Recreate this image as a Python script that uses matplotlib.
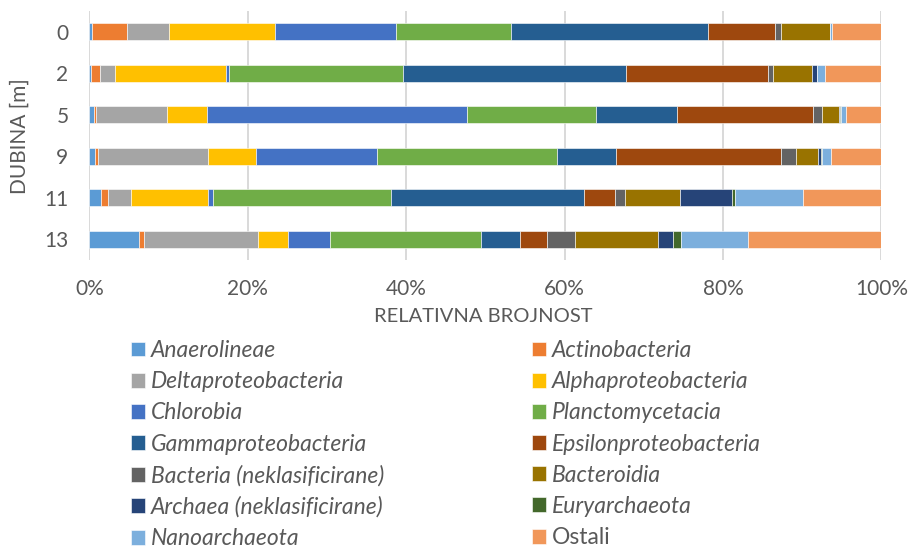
import matplotlib.pyplot as plt
import numpy as np

plt.rcParams['font.family'] = ['Lato', 'DejaVu Sans']

depths = ['0', '2', '5', '9', '11', '13']

# relative abundance (%) per depth, top to bottom
anaerolineae = [0.4, 0.25, 0.6, 0.76, 1.5, 6.3]
actinobacteria = [4.4, 1.1, 0.25, 0.34, 0.85, 0.65]
deltaproteobacteria = [5.3, 1.9, 9.0, 13.9, 2.95, 14.4]
alphaproteobacteria = [13.4, 14.0, 5.0, 6.0, 9.7, 3.75]
chlorobia = [15.2, 0.4, 32.8, 15.35, 0.6, 5.25]
planctomycetacia = [14.5, 22.0, 16.3, 22.7, 22.5, 19.05]
gammaproteobacteria = [24.9, 28.1, 10.2, 7.4, 24.3, 5.0]
epsilonproteobacteria = [8.5, 17.9, 17.2, 20.9, 4.0, 3.35]
bacteria_nekl = [0.7, 0.7, 1.15, 1.9, 1.3, 3.55]
bacteroidia = [6.2, 4.9, 2.15, 2.8, 6.9, 10.5]
archaea_nekl = [0.0, 0.6, 0.1, 0.3, 6.6, 1.95]
euryarchaeota = [0.0, 0.0, 0.1, 0.2, 0.3, 1.0]
nanoarchaeota = [0.3, 1.0, 0.7, 1.05, 8.65, 8.45]
ostali = [6.2, 7.2, 4.45, 6.35, 9.85, 16.8]

series = [
    ('Anaerolineae', anaerolineae, '#5B9BD5'),
    ('Actinobacteria', actinobacteria, '#ED7D31'),
    ('Deltaproteobacteria', deltaproteobacteria, '#A5A5A5'),
    ('Alphaproteobacteria', alphaproteobacteria, '#FFC000'),
    ('Chlorobia', chlorobia, '#4472C4'),
    ('Planctomycetacia', planctomycetacia, '#70AD47'),
    ('Gammaproteobacteria', gammaproteobacteria, '#255E91'),
    ('Epsilonproteobacteria', epsilonproteobacteria, '#9E480E'),
    ('Bacteria (neklasificirane)', bacteria_nekl, '#636363'),
    ('Bacteroidia', bacteroidia, '#997300'),
    ('Archaea (neklasificirane)', archaea_nekl, '#264478'),
    ('Euryarchaeota', euryarchaeota, '#43682B'),
    ('Nanoarchaeota', nanoarchaeota, '#7CAFDD'),
    ('Ostali', ostali, '#F1975A'),
]

grey = '#595959'

fig = plt.figure(figsize=(9.08, 5.51), dpi=100)
ax = fig.add_axes([89.3 / 908, 1 - 260 / 551, 792 / 908, 249 / 551])

y = np.arange(len(depths))
left = np.zeros(len(depths))
handles = []
for name, vals, col in series:
    vals = np.array(vals)
    h = ax.barh(y, vals, left=left, height=0.4, color=col,
                edgecolor='white', linewidth=0.4, zorder=3)
    handles.append(h)
    left += vals

ax.set_xlim(0, 100)
ax.set_ylim(len(depths) - 0.5, -0.5)
ax.set_xticks(np.arange(0, 101, 20))
ax.set_xticklabels(['{:d}%'.format(v) for v in range(0, 101, 20)])
ax.set_yticks(y)
ax.set_yticklabels(depths)
ax.tick_params(axis='both', length=0, labelsize=15, labelcolor=grey)
ax.tick_params(axis='y', pad=15)
ax.tick_params(axis='x', pad=14)
ax.grid(axis='x', color='#D9D9D9', linewidth=1.4, zorder=0)
for s in ax.spines.values():
    s.set_visible(False)

fig.text(483 / 908, 1 - 317 / 551, 'RELATIVNA BROJNOST', ha='center', va='center',
         fontsize=14.5, color=grey)
fig.text(20 / 908, 1 - 136 / 551, 'DUBINA [m]', ha='center', va='center',
         rotation=90, fontsize=15, color=grey)

# two legend columns, row-wise order as in the original
for col, x0 in [(0, 131), (1, 532)]:
    hs = handles[col::2]
    labels = [s[0] for s in series[col::2]]
    leg = fig.legend(hs, labels, loc='upper left',
                     bbox_to_anchor=(x0 / 908, 1 - 340 / 551),
                     frameon=False, fontsize=16.5, borderpad=0, borderaxespad=0,
                     handlelength=0.62, handleheight=0.62, handletextpad=0.26,
                     labelspacing=0.445)
    for t in leg.get_texts():
        t.set_color(grey)
        if t.get_text() != 'Ostali':
            t.set_fontstyle('italic')

fig.savefig('out.png', dpi=100)
